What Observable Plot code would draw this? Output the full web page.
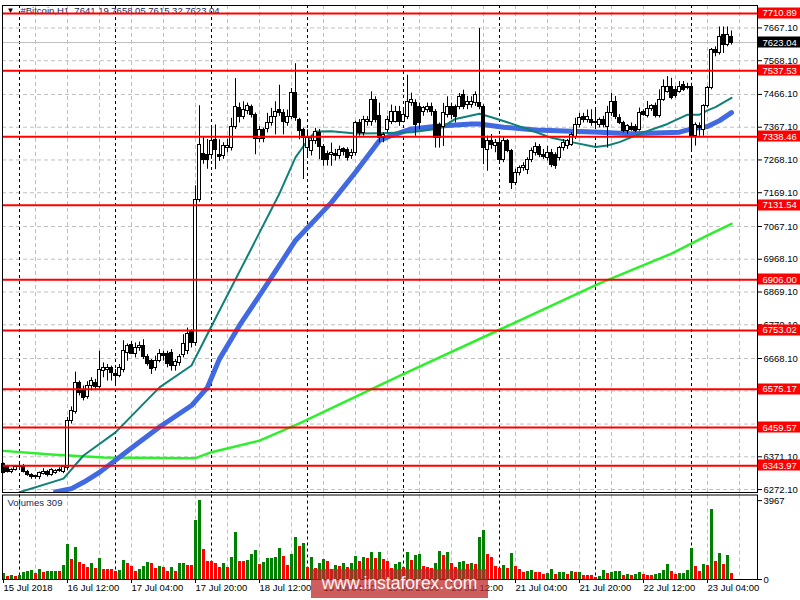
<!DOCTYPE html>
<html><head><meta charset="utf-8">
<script src="https://cdn.jsdelivr.net/npm/d3@7"></script>
<script src="https://cdn.jsdelivr.net/npm/@observablehq/plot@0.6"></script>
<style>
body{margin:0;background:#fff;}
#wrap{position:relative;width:800px;height:600px;overflow:hidden;background:#fff;font-family:"Liberation Sans",Arial,sans-serif;}
#wrap svg{position:absolute;left:0;overflow:visible;}
#wm{position:absolute;left:311px;top:569px;width:177px;height:29px;background:rgba(190,40,40,0.75);color:#fff4f4;font:17.5px "Liberation Sans",Arial,sans-serif;text-align:center;line-height:28px;}
</style></head><body><div id="wrap"><div id="wm">www.instaforex.com</div></div>
<script>
// ---- hourly bars, 15 Jul 20:00 .. 23 Jul 10:00 (index 0..182) ----
const open = [6348,6340,6325,6330,6340,6342,6325,6315,6309,6310,6320,6326,6315,6322,6330,6325,6338,6478,6505,6593,6570,6552,6585,6595,6582,6630,6632,6640,6622,6615,6632,6685,6710,6683,6700,6705,6672,6660,6640,6662,6682,6682,6685,6645,6655,6680,6690,6750,6715,7146,
7286,7284,7284,7329,7284,7279,7305,7304,7369,7424,7399,7417,7429,7404,7331,7359,7361,7379,7397,7419,7411,7381,7399,7469,7389,7359,7304,7294,7324,7349,7307,7287,7282,7287,7279,7301,7299,7279,7289,7379,7349,7383,7384,7449,7400,7334,7359,7384,7384,7414,
7384,7399,7439,7441,7429,7414,7419,7429,7414,7374,7369,7404,7429,7429,7429,7464,7434,7434,7439,7439,7429,7299,7324,7311,7319,7269,7324,7294,7199,7229,7244,7239,7269,7289,7307,7284,7274,7289,7284,7274,7304,7311,7314,7339,7374,7399,7389,7389,7384,7374,
7389,7369,7409,7444,7395,7380,7355,7368,7368,7360,7412,7400,7422,7430,7400,7450,7475,7490,7480,7475,7495,7490,7490,7340,7370,7360,7430,7485,7600,7590,7645,7615,7641.19];
const high = [6352,6345,6335,6345,6354,6348,6330,6320,6315,6325,6335,6330,6335,6332,6338,6342,6490,6522,6627,6600,6585,6598,6610,6605,6690,6655,6650,6645,6635,6650,6722,6712,6720,6715,6718,6725,6680,6665,6675,6695,6690,6690,6695,6665,6680,6740,6760,6755,7190,7432,
7335,7330,7369,7374,7329,7320,7330,7394,7514,7440,7444,7440,7434,7410,7369,7364,7409,7424,7444,7494,7420,7419,7484,7559,7394,7364,7359,7340,7364,7360,7315,7295,7319,7300,7310,7305,7305,7300,7385,7390,7400,7399,7474,7459,7440,7350,7400,7434,7430,7430,
7420,7524,7470,7450,7440,7430,7440,7440,7420,7380,7439,7459,7440,7434,7469,7479,7460,7459,7474,7665,7435,7340,7345,7330,7340,7335,7330,7300,7240,7250,7260,7275,7304,7320,7315,7300,7309,7300,7290,7309,7330,7330,7350,7394,7409,7409,7419,7420,7420,7395,
7400,7430,7469,7460,7405,7385,7375,7380,7375,7425,7420,7445,7435,7440,7480,7510,7520,7515,7490,7505,7505,7500,7500,7380,7380,7435,7490,7605,7610,7670,7670,7670,7658.05];
const low = [6320,6322,6320,6328,6336,6322,6312,6303,6303,6302,6316,6310,6312,6318,6324,6320,6330,6470,6500,6555,6540,6545,6570,6575,6575,6610,6600,6600,6590,6610,6625,6660,6680,6670,6690,6665,6645,6620,6630,6655,6660,6640,6630,6630,6645,6670,6680,6700,6705,7140,
7255,7240,7270,7239,7264,7270,7290,7295,7360,7380,7390,7405,7395,7284,7320,7320,7350,7370,7344,7400,7344,7370,7390,7385,7329,7209,7280,7280,7315,7269,7249,7250,7249,7265,7270,7280,7265,7270,7280,7340,7340,7370,7370,7380,7320,7320,7350,7375,7380,7370,
7380,7390,7430,7340,7360,7400,7410,7400,7304,7304,7309,7395,7390,7380,7420,7420,7420,7425,7430,7420,7254,7234,7300,7290,7255,7260,7290,7179,7190,7220,7234,7224,7260,7280,7275,7270,7265,7245,7240,7265,7295,7300,7309,7330,7365,7380,7380,7370,7360,7365,
7365,7304,7400,7390,7375,7350,7345,7355,7350,7355,7400,7395,7415,7395,7395,7445,7470,7450,7455,7470,7475,7480,7300,7310,7340,7340,7425,7480,7580,7585,7590,7610,7615.32];
const close = [6322,6325,6330,6340,6342,6325,6315,6309,6312,6322,6326,6315,6330,6328,6328,6340,6480,6508,6593,6565,6548,6586,6600,6582,6632,6638,6640,6625,6615,6640,6692,6705,6683,6700,6705,6672,6652,6635,6662,6682,6675,6652,6645,6658,6672,6712,6743,6715,7146,7312,
7267,7269,7324,7299,7276,7311,7309,7369,7429,7397,7419,7431,7404,7331,7359,7331,7379,7399,7414,7409,7384,7397,7469,7394,7357,7334,7334,7324,7354,7307,7269,7267,7289,7279,7299,7291,7274,7289,7379,7349,7389,7389,7449,7389,7334,7344,7389,7414,7414,7384,
7404,7444,7449,7374,7379,7424,7429,7414,7334,7334,7409,7429,7404,7399,7459,7429,7444,7444,7464,7429,7304,7324,7314,7319,7269,7324,7294,7199,7229,7244,7249,7269,7294,7307,7284,7278,7289,7254,7249,7304,7319,7324,7344,7374,7394,7389,7399,7379,7379,7389,
7374,7409,7444,7399,7380,7355,7370,7360,7357,7410,7405,7422,7430,7400,7450,7490,7490,7455,7460,7490,7480,7485,7340,7375,7365,7430,7485,7600,7590,7640,7615,7645,7623.04];
const volume = [300,166,216,166,216,332,382,448,282,515,332,382,390,415,382,714,1760,1013,1610,863,747,614,780,548,1062,515,510,481,382,448,963,813,664,415,515,664,863,780,548,664,581,382,581,415,780,790,714,700,2955,3967,
1530,913,900,820,620,780,580,1110,2360,913,900,960,1245,1470,757,873,1073,1080,1120,1570,1170,720,1270,2120,1670,1790,620,1120,557,790,1023,890,507,723,657,790,624,800,1170,923,1123,1072,1372,1072,1380,1022,890,557,773,873,
600,1372,973,1222,1272,673,623,557,823,1422,1222,1372,823,623,873,923,773,780,770,2120,2470,1272,1122,673,540,723,557,1322,657,507,340,424,430,374,370,274,308,524,274,341,374,274,424,341,357,224,215,191,125,175,
474,308,341,391,424,224,230,224,230,374,274,224,220,274,324,441,773,424,274,290,324,441,1572,673,424,773,723,3500,923,1322,773,1222,309];

// ---- moving averages (bar index, price) ----
const tealBar = [4,15,20,28,39,47,54,63,69,73,76,78,82,88,94,102,109,113,119,122,127,132,137,142,148,151,154,159,166,171,174,176,178,182];
const tealVal = [6264,6305,6375,6445,6581,6647,6813,7025,7167,7276,7327,7354,7355,7348,7349,7352,7363,7392,7408,7397,7378,7357,7335,7322,7307,7312,7322,7347,7377,7405,7405,7418,7428,7456];
const blueBar = [13,17,20,24,32,39,47,51,54,59,66,73,82,88,94,97,102,109,117,119,125,133,142,149,157,169,172,176,179,182];
const blueVal = [6265,6275,6294,6324,6398,6461,6526,6581,6667,6768,6895,7025,7140,7231,7327,7342,7362,7371,7377,7377,7367,7359,7355,7352,7347,7352,7362,7369,7387,7411];
const greenBar = [0,12,25,48,52,64,74,99,124,149,167,176,182];
const greenVal = [6389,6378,6369,6367,6385,6420,6472,6616,6755,6895,6985,7040,7075];

// ---- levels, ticks, labels ----
const levels = [7710.89,7537.53,7338.46,7131.54,6906.00,6753.02,6575.17,6459.57,6343.97];
const priceGrid = [7667.10,7568.10,7466.10,7367.10,7268.10,7169.10,7067.10,6968.10,6869.10,6770.10,6668.10,6570.10,6470.10,6371.10,6272.10];
const priceTicks = [7667.10,7568.10,7466.10,7367.10,7268.10,7169.10,7067.10,6968.10,6869.10,6770.10,6668.10,6371.10,6272.10];
const volTicks = [0,3967];
const labelBars = [0,16,32,48,64,80,96,112,128,144,160,176];
const timeLabels = ["15 Jul 2018","16 Jul 12:00","17 Jul 04:00","17 Jul 20:00","18 Jul 12:00","19 Jul 04:00","19 Jul 20:00","20 Jul 12:00","21 Jul 04:00","21 Jul 20:00","22 Jul 12:00","23 Jul 04:00"];
const symbol = "#Bitcoin,H1";

const N = close.length;
const bars = d3.range(N).map(i => ({i, o: open[i], h: high[i], l: low[i], c: close[i], v: volume[i],
  up: i === 0 || volume[i] > volume[i-1]}));
const gridBars = d3.range(8, 189, 8);
const dayBars = d3.range(4, 189, 24);
const last = N - 1;
const xDomain = [-0.25, 188.5];
const FONT = "'Liberation Sans', Arial, sans-serif";

const wrap = document.getElementById("wrap");

const price = Plot.plot({
  width: 800, height: 493,
  marginTop: 5, marginBottom: 1, marginLeft: 2, marginRight: 43,
  x: {domain: xDomain, axis: null},
  y: {domain: [6263.2, 7734.9], axis: null},
  style: {fontFamily: FONT, fontSize: "9.5px", color: "black", background: "transparent", overflow: "visible"},
  marks: [
    Plot.ruleY(priceGrid, {stroke: "#c0c0c0", strokeDasharray: "4,3"}),
    Plot.ruleX(gridBars, {stroke: "#c0c0c0", strokeDasharray: "4,3"}),
    Plot.ruleX(dayBars, {stroke: "black", strokeDasharray: "3,3"}),
    Plot.ruleY([close[last]], {stroke: "#c0c0c0"}),
    Plot.text(["\u25BC"], {frameAnchor: "top-left", dx: 4, dy: 2, fontSize: 8, fill: "black"}),
    Plot.text([`${symbol}\u00a0\u00a0${open[last].toFixed(2)} ${high[last].toFixed(2)} ${low[last].toFixed(2)} ${close[last].toFixed(2)}`],
      {frameAnchor: "top-left", dx: 18, dy: 1.5, fill: "#1a2a5a"}),
    Plot.line(d3.zip(greenBar, greenVal), {stroke: "#2bf02b", strokeWidth: 2.5, clip: true}),
    Plot.line(d3.zip(blueBar, blueVal), {stroke: "#4169e1", strokeWidth: 5, clip: true}),
    Plot.line(d3.zip(tealBar, tealVal), {stroke: "#0e8077", strokeWidth: 2, clip: true}),
    Plot.ruleX(bars, {x: "i", y1: "l", y2: "h", stroke: "black", strokeWidth: 1}),
    Plot.rect(bars, {x1: d => d.i - 0.3, x2: d => d.i + 0.3, y1: "o", y2: "c",
      fill: d => d.c >= d.o ? "white" : "black", stroke: "black", strokeWidth: 1, shapeRendering: "crispEdges"}),
    Plot.ruleY(levels, {stroke: "#ff0000", strokeWidth: 2}),
    Plot.axisY({anchor: "right", ticks: priceTicks, tickFormat: d => d.toFixed(2), tickSize: 4, tickPadding: 2, label: null}),
    Plot.text(levels, {y: d => d, frameAnchor: "right", dx: 5, textAnchor: "start", fill: "white", text: d => d.toFixed(2), ariaLabel: "levels"}),
    Plot.text([close[last]], {y: d => d, frameAnchor: "right", dx: 5, textAnchor: "start", fill: "white", text: d => d.toFixed(2), ariaLabel: "lastprice"}),
    Plot.frame({stroke: "black"})
  ]
});
price.style.top = "0px";
wrap.insertBefore(price, wrap.firstChild);

// label boxes behind the right-hand level labels
function boxes(svg, label, vals, color) {
  const ys = svg.scale("y"), xs = svg.scale("x");
  let g = svg.querySelector(`[aria-label="${label}"]`);
  if (!g) { const t = [...svg.querySelectorAll("text")].find(t => t.textContent === vals[0].toFixed(2)); g = t ? t.parentNode : null; }
  const bg = document.createElementNS("http://www.w3.org/2000/svg", "g");
  if (g) g.parentNode.insertBefore(bg, g); else svg.appendChild(bg);
  const x0 = xs.range[1] + 1;
  d3.select(bg).selectAll("rect").data(vals).join("rect")
    .attr("x", x0).attr("width", 800 - x0)
    .attr("y", d => Math.round(ys.apply(d)) - 5.5).attr("height", 11)
    .attr("fill", color);
}
boxes(price, "levels", levels, "#ff0000");
boxes(price, "lastprice", [close[last]], "#000000");

const vol = Plot.plot({
  width: 800, height: 107,
  marginTop: 1.5, marginBottom: 21, marginLeft: 2, marginRight: 43,
  x: {domain: xDomain, axis: null},
  y: {domain: [0, 4250], axis: null},
  style: {fontFamily: FONT, fontSize: "9.5px", color: "black", background: "transparent", overflow: "visible"},
  marks: [
    Plot.ruleX(gridBars, {stroke: "#c0c0c0", strokeDasharray: "4,3"}),
    Plot.ruleX(dayBars, {stroke: "black", strokeDasharray: "3,3"}),
    Plot.ruleY([0], {stroke: "#c0c0c0", strokeDasharray: "4,3"}),
    Plot.rectY(bars, {x1: d => d.i - 0.375, x2: d => d.i + 0.375, y1: 0, y2: "v",
      fill: d => d.up ? "#008000" : "#ff0000", shapeRendering: "crispEdges"}),
    Plot.axisY({anchor: "right", ticks: volTicks, tickFormat: d => String(d), tickSize: 4, tickPadding: 2, label: null}),
    Plot.axisX({anchor: "bottom", ticks: labelBars, tickFormat: i => timeLabels[labelBars.indexOf(i)],
      textAnchor: "start", tickSize: 4, tickPadding: 1, label: null}),
    Plot.text([`Volumes ${volume[last]}`], {frameAnchor: "top-left", dx: 5, dy: 4, fill: "#1a2a5a"}),
    Plot.frame({stroke: "black"})
  ]
});
vol.style.top = "493px";
wrap.insertBefore(vol, document.getElementById("wm"));
</script>
</body></html>
